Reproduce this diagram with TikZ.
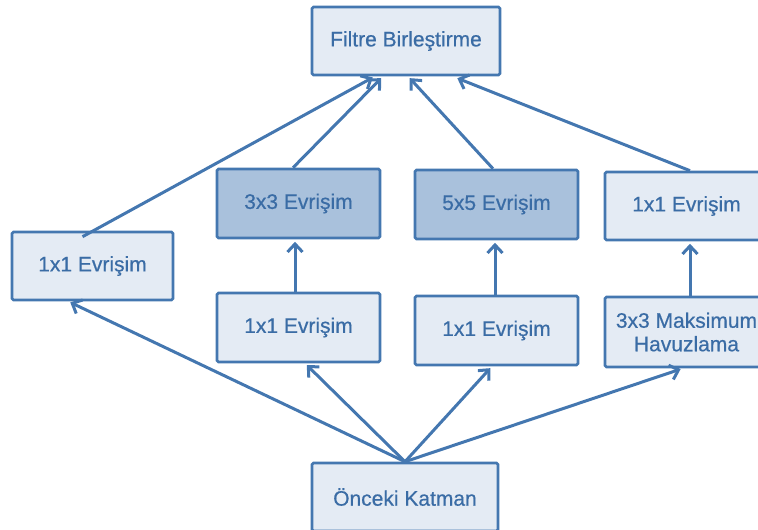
\documentclass[tikz,border=0pt]{standalone}
\usepackage{fontspec}
\setmainfont{Liberation Sans}
\newfontfamily\labelfont[FakeBold=0.6]{Liberation Sans}
\usetikzlibrary{arrows.meta}
\definecolor{edgeblue}{HTML}{4477B0}
\definecolor{textblue}{HTML}{3A6CA5}
\definecolor{lightfill}{HTML}{E4EBF4}
\definecolor{darkfill}{HTML}{A9C1DC}
\tikzset{
  layer/.style={draw=edgeblue, line width=2.6pt, fill=lightfill, rounded corners=1.5pt,
    minimum width=163pt, minimum height=68pt, inner sep=0pt, align=center,
    text=textblue, font=\labelfont\fontsize{21}{23.5}\selectfont},
  convbox/.style={layer, fill=darkfill},
  flow/.style={draw=edgeblue, line width=3pt,
    -{Straight Barb[length=8pt,width=15pt,line width=3pt]}, shorten >=2.5pt}
}
\begin{document}
\begin{tikzpicture}[x=1pt,y=-1pt]
  \useasboundingbox (0,0) rectangle (758,530);
  \clip (0,0) rectangle (758,530);

  % layer boxes
  \node[layer, minimum width=188pt] (concat) at (406,41) {Filtre Birleştirme};
  \node[layer, minimum width=161pt] (left1) at (92.5,266) {1x1 Evrişim};
  \node[convbox, minimum height=69pt] (conv3) at (298.5,203.5) {3x3 Evrişim};
  \node[convbox, minimum height=69pt] (conv5) at (496.5,204.5) {5x5 Evrişim};
  \node[layer] (right1) at (686.5,206) {1x1 Evrişim};
  \node[layer, minimum height=69pt] (mid1) at (298.5,327.5) {1x1 Evrişim};
  \node[layer, minimum height=69pt] (mid2) at (496.5,330.5) {1x1 Evrişim};
  \node[layer, minimum height=70pt] (pool) at (686.5,332) {3x3 Maksimum\\Havuzlama};
  \node[layer, minimum width=186pt] (prev) at (405,497) {Önceki Katman};

  % from the previous layer into the four branches
  \draw[flow] (prev.north) -- ([xshift=-24.5pt]left1.south);
  \draw[flow] (prev.north) -- ([xshift=6.5pt]mid1.south);
  \draw[flow] (prev.north) -- ([xshift=-4.5pt]mid2.south);
  \draw[flow] (prev.north) -- ([xshift=-3.5pt]pool.south);

  % inside the branches
  \draw[flow] ([xshift=-3.5pt]mid1.north) -- ([xshift=-3.5pt]conv3.south);
  \draw[flow] ([xshift=-1.5pt]mid2.north) -- ([xshift=-1.5pt]conv5.south);
  \draw[flow] ([xshift=3.5pt]pool.north) -- ([xshift=3.5pt]right1.south);

  % branches into the concatenation
  \draw[flow] ([xshift=-10pt,yshift=-6pt]left1.north) -- ([xshift=-31pt]concat.south);
  \draw[flow] ([xshift=-5.5pt]conv3.north) -- ([xshift=-23pt]concat.south);
  \draw[flow] ([xshift=-3.5pt]conv5.north) -- ([xshift=2pt]concat.south);
  \draw[flow] ([xshift=3.5pt]right1.north) -- ([xshift=49pt,yshift=-1pt]concat.south);
\end{tikzpicture}
\end{document}
